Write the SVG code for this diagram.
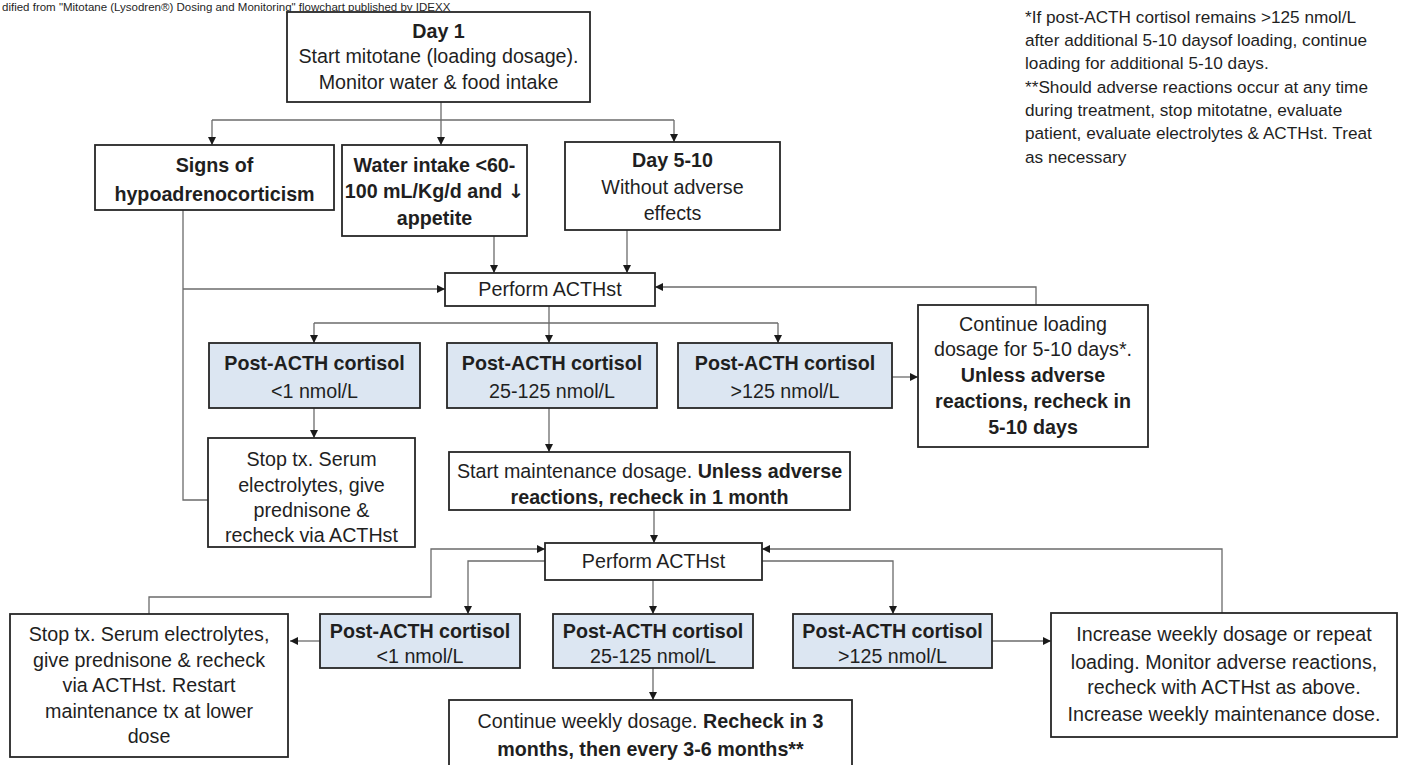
<svg xmlns="http://www.w3.org/2000/svg" width="1402" height="765" viewBox="0 0 1402 765">
<defs>
<marker id="ah" markerUnits="userSpaceOnUse" markerWidth="9" markerHeight="8" refX="8" refY="4" orient="auto">
<path d="M0,0 L8,4 L0,8 z" fill="#1a1a1a"/>
</marker>
<style>
.box{fill:#ffffff;stroke:#262626;stroke-width:1.8}
.blue{fill:#dce6f2;stroke:#262626;stroke-width:1.8}
.t{font-family:"Liberation Sans",Arial,sans-serif;font-size:19.7px;fill:#1f1f1f;text-anchor:middle}
.b{font-weight:bold}
.fn{font-family:"Liberation Sans",Arial,sans-serif;font-size:17.2px;fill:#1f1f1f}
.hd{font-family:"Liberation Sans","DejaVu Sans",sans-serif;font-size:11.5px;fill:#1f1f1f}
.sym{font-family:"DejaVu Sans",sans-serif}
.c{fill:none;stroke:#6b6b6b;stroke-width:1.3}
.ca{fill:none;stroke:#6b6b6b;stroke-width:1.3;marker-end:url(#ah)}
</style>
</defs>
<rect width="1402" height="765" fill="#ffffff"/>
<text x="2" y="11" class="hd">dified from "Mitotane (Lysodren&#174;&#xFE0E;) Dosing and Monitoring" flowchart published by IDEXX</text>

<g id="footnote">
<text class="fn" x="1025" y="23">*If post-ACTH cortisol remains &gt;125 nmol/L</text>
<text class="fn" x="1025" y="46">after additional 5-10 daysof loading, continue</text>
<text class="fn" x="1025" y="69">loading for additional 5-10 days.</text>
<text class="fn" x="1025" y="93">**Should adverse reactions occur at any time</text>
<text class="fn" x="1025" y="116">during treatment, stop mitotatne, evaluate</text>
<text class="fn" x="1025" y="139">patient, evaluate electrolytes &amp; ACTHst. Treat</text>
<text class="fn" x="1025" y="163">as necessary</text>
</g>

<g id="connectors">
<path class="c" d="M441,102 V120"/>
<path class="c" d="M212,120 H674"/>
<path class="ca" d="M212,120 V145"/>
<path class="ca" d="M441,120 V145"/>
<path class="ca" d="M674,120 V142"/>
<path class="ca" d="M494,236 V273"/>
<path class="ca" d="M627,230 V273"/>
<path class="c" d="M183,210 V500 H208"/>
<path class="ca" d="M183,289 H445"/>
<path class="ca" d="M1036,305 V287 H655"/>
<path class="c" d="M549,306 V323"/>
<path class="c" d="M314,323 H778"/>
<path class="ca" d="M314,323 V343"/>
<path class="ca" d="M549,323 V343"/>
<path class="ca" d="M778,323 V343"/>
<path class="ca" d="M892,377 H918"/>
<path class="ca" d="M314,408 V438"/>
<path class="ca" d="M549,408 V452"/>
<path class="ca" d="M654,510 V543"/>
<path class="ca" d="M149,614 V597 H431 V549 H545"/>
<path class="ca" d="M545,561 H468 V614"/>
<path class="ca" d="M653,580 V614"/>
<path class="ca" d="M762,561 H893 V614"/>
<path class="ca" d="M1222,613 V549 H762"/>
<path class="ca" d="M320,641 H290"/>
<path class="ca" d="M992,641 H1051"/>
<path class="ca" d="M653,668 V700"/>
</g>

<g id="day1">
<rect class="box" x="287" y="12" width="303" height="90"/>
<text class="t b" x="438.5" y="38">Day 1</text>
<text class="t" x="438.5" y="63">Start mitotane (loading dosage).</text>
<text class="t" x="438.5" y="89">Monitor water &amp; food intake</text>
</g>

<g id="signs">
<rect class="box" x="95" y="145" width="239" height="65"/>
<text class="t b" x="214.5" y="172">Signs of</text>
<text class="t b" x="214.5" y="201">hypoadrenocorticism</text>
</g>

<g id="water">
<rect class="box" x="342" y="145" width="185" height="91"/>
<text class="t b" x="434.5" y="172">Water intake &lt;60-</text>
<text class="t b" x="434.5" y="198">100 mL/Kg/d and <tspan class="sym">&#8595;&#xFE0E;</tspan></text>
<text class="t b" x="434.5" y="225">appetite</text>
</g>

<g id="day510">
<rect class="box" x="565" y="142" width="215" height="88"/>
<text class="t b" x="672.5" y="167">Day 5-10</text>
<text class="t" x="672.5" y="194">Without adverse</text>
<text class="t" x="672.5" y="220">effects</text>
</g>

<g id="acth1">
<rect class="box" x="445" y="273" width="210" height="33"/>
<text class="t" x="550" y="296">Perform ACTHst</text>
</g>

<g id="pa1">
<rect class="blue" x="209" y="343" width="211" height="65"/>
<text class="t b" x="314.5" y="370">Post-ACTH cortisol</text>
<text class="t" x="314.5" y="398">&lt;1 nmol/L</text>
</g>
<g id="pa2">
<rect class="blue" x="447" y="343" width="210" height="65"/>
<text class="t b" x="552" y="370">Post-ACTH cortisol</text>
<text class="t" x="552" y="398">25-125 nmol/L</text>
</g>
<g id="pa3">
<rect class="blue" x="678" y="343" width="214" height="65"/>
<text class="t b" x="785" y="370">Post-ACTH cortisol</text>
<text class="t" x="785" y="398">&gt;125 nmol/L</text>
</g>

<g id="continueload">
<rect class="box" x="918" y="305" width="230" height="142"/>
<text class="t" x="1033" y="331">Continue loading</text>
<text class="t" x="1033" y="356">dosage for 5-10 days*.</text>
<text class="t b" x="1033" y="382">Unless adverse</text>
<text class="t b" x="1033" y="408">reactions, recheck in</text>
<text class="t b" x="1033" y="434">5-10 days</text>
</g>

<g id="stop1">
<rect class="box" x="208" y="438" width="207" height="109"/>
<text class="t" x="311.5" y="466">Stop tx. Serum</text>
<text class="t" x="311.5" y="492">electrolytes, give</text>
<text class="t" x="311.5" y="517">prednisone &amp;</text>
<text class="t" x="311.5" y="542">recheck via ACTHst</text>
</g>

<g id="maint">
<rect class="box" x="449" y="452" width="401" height="58"/>
<text class="t" x="649.5" y="478">Start maintenance dosage. <tspan class="b">Unless adverse</tspan></text>
<text class="t b" x="649.5" y="504">reactions, recheck in 1 month</text>
</g>

<g id="acth2">
<rect class="box" x="545" y="543" width="217" height="37"/>
<text class="t" x="653.5" y="568">Perform ACTHst</text>
</g>

<g id="pb1">
<rect class="blue" x="320" y="614" width="200" height="54"/>
<text class="t b" x="420" y="638">Post-ACTH cortisol</text>
<text class="t" x="420" y="663">&lt;1 nmol/L</text>
</g>
<g id="pb2">
<rect class="blue" x="553" y="614" width="200" height="54"/>
<text class="t b" x="653" y="638">Post-ACTH cortisol</text>
<text class="t" x="653" y="663">25-125 nmol/L</text>
</g>
<g id="pb3">
<rect class="blue" x="793" y="614" width="199" height="54"/>
<text class="t b" x="892.5" y="638">Post-ACTH cortisol</text>
<text class="t" x="892.5" y="663">&gt;125 nmol/L</text>
</g>

<g id="stop2">
<rect class="box" x="10" y="614" width="278" height="143"/>
<text class="t" x="149" y="641">Stop tx. Serum electrolytes,</text>
<text class="t" x="149" y="667">give prednisone &amp; recheck</text>
<text class="t" x="149" y="692">via ACTHst. Restart</text>
<text class="t" x="149" y="718">maintenance tx at lower</text>
<text class="t" x="149" y="743">dose</text>
</g>

<g id="increase">
<rect class="box" x="1051" y="613" width="346" height="124"/>
<text class="t" x="1224" y="641" font-size="20.2">Increase weekly dosage or repeat</text>
<text class="t" x="1224" y="669" font-size="20.2">loading. Monitor adverse reactions,</text>
<text class="t" x="1224" y="694" font-size="20.2">recheck with ACTHst as above.</text>
<text class="t" x="1224" y="721" font-size="20.2">Increase weekly maintenance dose.</text>
</g>

<g id="weekly">
<rect class="box" x="449" y="700" width="403" height="80"/>
<text class="t" x="650.5" y="728">Continue weekly dosage. <tspan class="b">Recheck in 3</tspan></text>
<text class="t b" x="650.5" y="756">months, then every 3-6 months**</text>
</g>
</svg>
